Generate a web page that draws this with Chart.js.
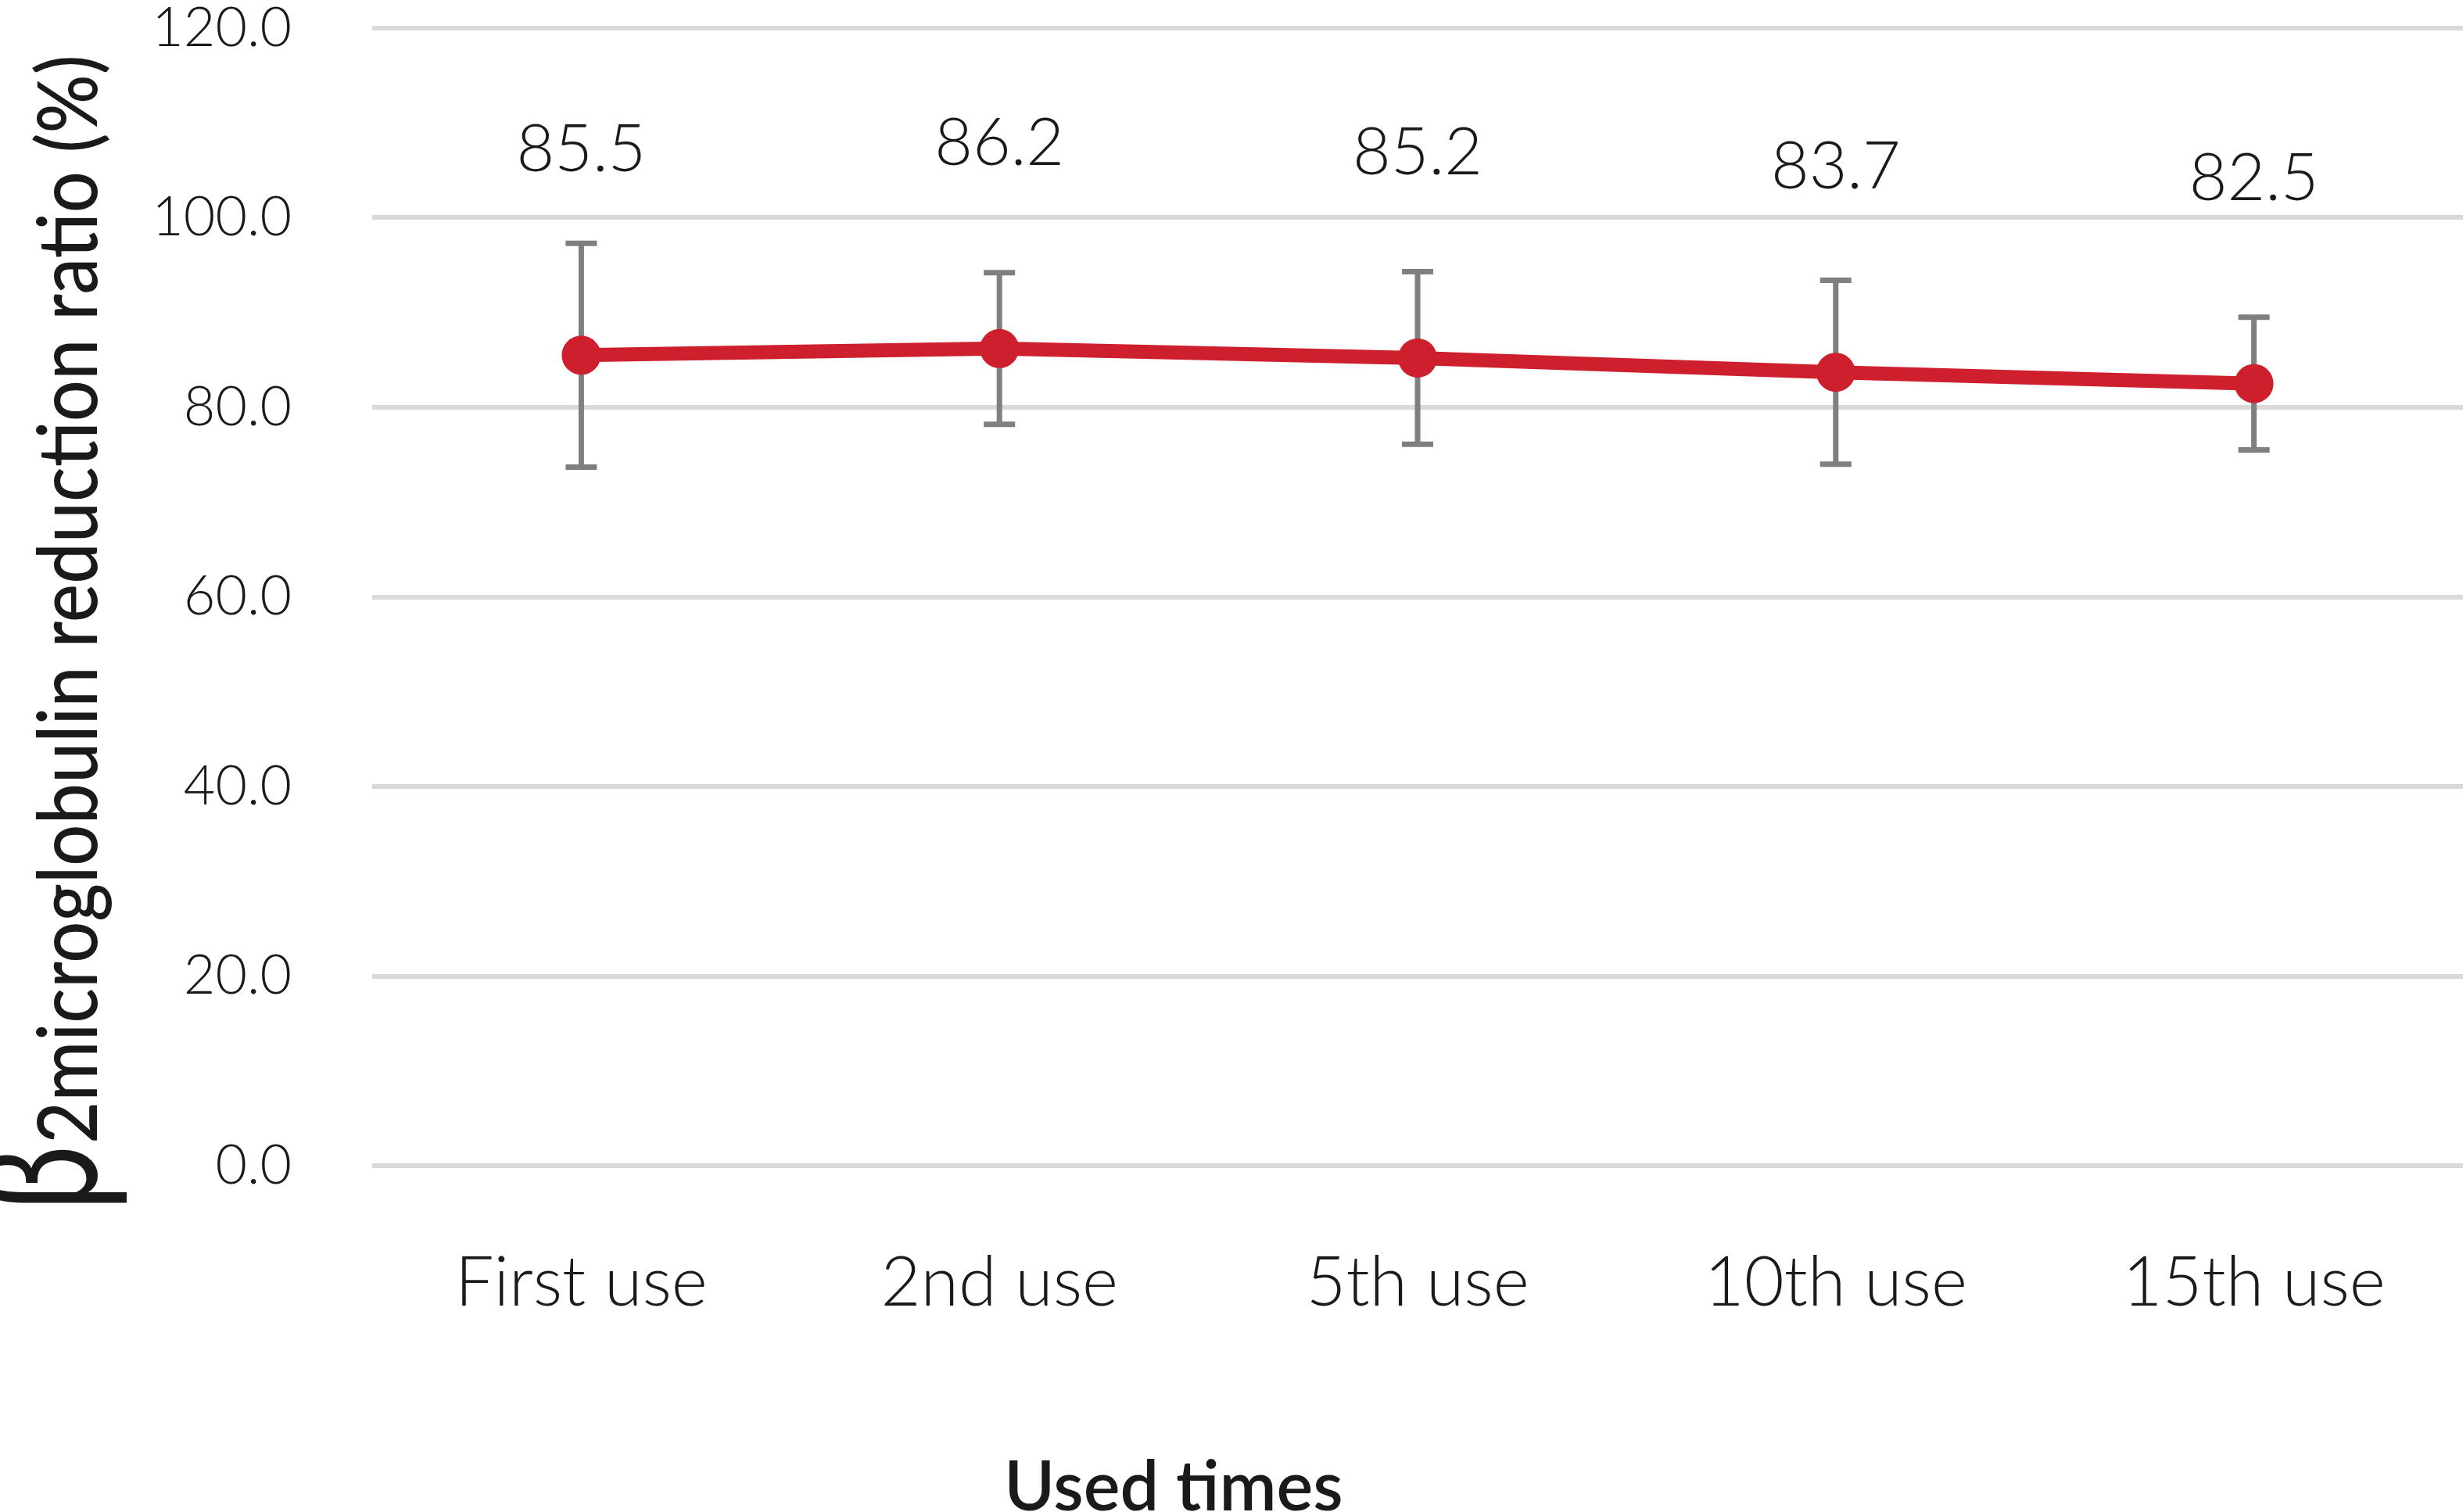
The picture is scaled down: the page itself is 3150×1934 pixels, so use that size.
<!DOCTYPE html>
<html lang="en">
<head>
  <meta charset="UTF-8">
  <title>β2microglobulin reduction ratio</title>
  <script src="https://cdn.jsdelivr.net/npm/chart.js"></script>
  <style>
    body { margin: 0; background: #fff; overflow: hidden; }
    canvas { display: block; }
  </style>
</head>
<body>
  <canvas id="grafico" width="3150" height="1934"></canvas>

  <script>
    // data
    const usos = ['First use', '2nd use', '5th use', '10th use', '15th use'];
    const media = [85.5, 86.2, 85.2, 83.7, 82.5];
    const desvio = [11.8, 8.0, 9.1, 9.7, 7.0];

    const vermelho = '#cd1f2c';
    const cinza = '#7f7f7f';
    const texto = '#1a1a1a';

    // error bars, drawn under the line
    const barrasErro = {
      id: 'barrasErro',
      beforeDatasetsDraw(chart) {
        const ctx = chart.ctx;
        const y = chart.scales.y;
        const pts = chart.getDatasetMeta(0).data;
        ctx.save();
        ctx.strokeStyle = cinza;
        ctx.lineWidth = 7;
        pts.forEach((p, i) => {
          const yTop = y.getPixelForValue(media[i] + desvio[i]);
          const yBot = y.getPixelForValue(media[i] - desvio[i]);
          ctx.beginPath();
          ctx.moveTo(p.x, yTop); ctx.lineTo(p.x, yBot);
          ctx.moveTo(p.x - 20, yTop); ctx.lineTo(p.x + 20, yTop);
          ctx.moveTo(p.x - 20, yBot); ctx.lineTo(p.x + 20, yBot);
          ctx.stroke();
        });
        ctx.restore();
      }
    };

    // value labels above each point
    const rotulos = {
      id: 'rotulos',
      afterDatasetsDraw(chart) {
        const ctx = chart.ctx;
        const pts = chart.getDatasetMeta(0).data;
        ctx.save();
        ctx.fillStyle = texto;
        ctx.font = '300 84px Lato';
        ctx.textAlign = 'center';
        ctx.textBaseline = 'middle';
        pts.forEach((p, i) => {
          ctx.fillText(media[i].toFixed(1), p.x, p.y - 262);
        });
        ctx.restore();
      }
    };

    // axis titles (beta glyph larger than the rest)
    const titulos = {
      id: 'titulos',
      afterDraw(chart) {
        const ctx = chart.ctx;
        ctx.save();
        ctx.fillStyle = texto;

        ctx.font = '600 88px Lato';
        ctx.textAlign = 'center';
        ctx.textBaseline = 'alphabetic';
        ctx.fillText('Used times', 1501, 1932);

        ctx.translate(124, 1549);
        ctx.rotate(-Math.PI / 2);
        ctx.textAlign = 'left';
        ctx.save();
        ctx.scale(0.72, 1);
        ctx.font = '210px Lato';
        ctx.fillText('β', 0, 0);
        ctx.restore();

        const resto = '2microglobulin reduction ratio (%)';
        ctx.font = '500 106px Lato';
        const w = ctx.measureText(resto).width;
        ctx.translate(86, 0);
        ctx.scale(1393 / w, 1);
        ctx.fillText(resto, 0, 0);
        ctx.restore();
      }
    };

    new Chart(document.getElementById('grafico').getContext('2d'), {
      type: 'line',
      data: {
        labels: usos,
        datasets: [{
          data: media,
          borderColor: vermelho,
          backgroundColor: vermelho,
          borderWidth: 18,
          pointRadius: 25,
          pointBackgroundColor: vermelho,
          pointBorderWidth: 0,
          tension: 0,
          fill: false
        }]
      },
      options: {
        responsive: false,
        devicePixelRatio: 1,
        animation: false,
        layout: { autoPadding: false, padding: { top: 36, right: 0, left: 0, bottom: 0 } },
        plugins: {
          legend: { display: false },
          tooltip: { enabled: false }
        },
        scales: {
          x: {
            offset: true,
            grid: { display: false },
            border: { display: false },
            ticks: {
              color: texto,
              font: { family: 'Lato', weight: '300', size: 88, lineHeight: 1.2 },
              padding: 90,
              maxRotation: 0
            },
            afterFit(s) { s.height = 443; s.paddingLeft = 0; s.paddingRight = 0; }
          },
          y: {
            min: 0,
            max: 120,
            grid: { color: '#d9d9d9', lineWidth: 6, drawTicks: false },
            border: { display: false },
            ticks: {
              stepSize: 20,
              color: texto,
              font: { family: 'Lato', weight: '300', size: 70, lineHeight: 1 },
              padding: 103,
              callback: v => v.toFixed(1)
            },
            afterFit(s) { s.width = 476; s.paddingTop = 0; s.paddingBottom = 0; }
          }
        }
      },
      plugins: [barrasErro, rotulos, titulos]
    });
  </script>
</body>
</html>
